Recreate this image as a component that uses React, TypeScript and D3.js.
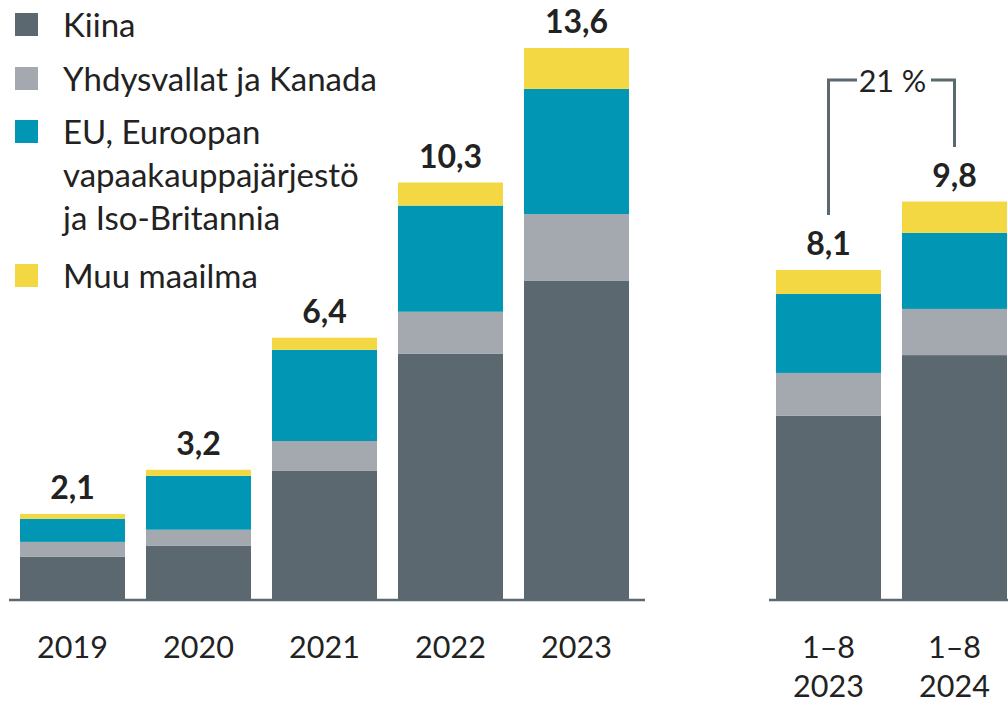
import React from "react";
import * as d3 from "d3";

const categories = ["2019", "2020", "2021", "2022", "2023", "", "1–8\n2023", "1–8\n2024"];
const totals = ["2,1", "3,2", "6,4", "10,3", "13,6", "", "8,1", "9,8"];
const seriesNames = ["Kiina", "Yhdysvallat ja Kanada", "EU, Euroopan\nvapaakauppajärjestö\nja Iso-Britannia", "Muu maailma"];
const kiina = [1.04, 1.31, 3.16, 6.05, 7.85, 0, 4.52, 6.02];
const usaCanada = [0.37, 0.4, 0.74, 1.04, 1.65, 0, 1.06, 1.14];
const eu = [0.57, 1.33, 2.25, 2.62, 3.09, 0, 1.95, 1.88];
const muu = [0.12, 0.15, 0.3, 0.57, 1.01, 0, 0.59, 0.77];
const changeLabel = "21 %";

const colors = ["#5b6870", "#a3a9ae", "#0096b4", "#f4d843"];
const FONT = "Lato, 'Open Sans', sans-serif";

export default function App() {
  const W = 1008, H = 703;
  const baseline = 599;
  const x = d3.scaleBand<string>().domain(categories.map((c, i) => String(i)))
    .range([9.5, 9.5 + 8 * 126]).paddingInner(1 / 6).paddingOuter(1 / 12);
  const y = d3.scaleLinear().domain([0, 13.6]).range([baseline, 48]);

  const rows = categories.map((c, i) => ({ key: String(i), v0: kiina[i], v1: usaCanada[i], v2: eu[i], v3: muu[i] }));
  const stack = d3.stack<any>().keys(["v0", "v1", "v2", "v3"])(rows);

  const bw = x.bandwidth();
  const cx = (i: number) => (x(String(i)) as number) + bw / 2;
  const tops = rows.map(r => r.v0 + r.v1 + r.v2 + r.v3);

  const i1 = 6, i2 = 7;
  const bracketY = 80;

  return (
    <svg width={W} height={H} style={{ position: "absolute", left: 0, top: 0, background: "#fff" }} fontFamily={FONT}>
      {stack.map((layer, li) => (
        <g key={li} fill={colors[li]}>
          {layer.map((d, i) => categories[i] === "" ? null : (
            <rect key={i} x={x(String(i))} width={bw} y={y(d[1])} height={Math.max(0, y(d[0]) - y(d[1]))} />
          ))}
        </g>
      ))}
      {/* axis lines */}
      <line x1={9} x2={645} y1={baseline + 1} y2={baseline + 1} stroke="#5b6870" strokeWidth={2.5} />
      <line x1={769} x2={1008} y1={baseline + 1} y2={baseline + 1} stroke="#5b6870" strokeWidth={2.5} />
      {/* category labels */}
      {categories.map((c, i) => c === "" ? null : (
        <text key={i} x={cx(i)} y={658} textAnchor="middle" fontSize={30.5} fill="#222">
          {c.split("\n").map((ln, k) => <tspan key={k} x={cx(i)} dy={k === 0 ? 0 : 39}>{ln}</tspan>)}
        </text>
      ))}
      {/* totals */}
      {totals.map((t, i) => t === "" ? null : (
        <text key={i} x={cx(i)} y={y(tops[i]) - 15} textAnchor="middle" fontSize={32} fontWeight={700} fill="#222">{t}</text>
      ))}
      {/* bracket */}
      <path d={`M${cx(i1)},215 V${bracketY} H857`} fill="none" stroke="#5b6870" strokeWidth={3} />
      <path d={`M931,${bracketY} H${cx(i2)} V147`} fill="none" stroke="#5b6870" strokeWidth={3} />
      <text x={(cx(i1) + cx(i2)) / 2 + 1} y={92} textAnchor="middle" fontSize={30.5} fill="#222">{changeLabel}</text>
      {/* legend */}
      {seriesNames.map((name, i) => {
        const ys = [37, 91, 144, 288][i];
        return (
          <g key={i}>
            <rect x={15} y={ys - 24} width={23} height={23} fill={colors[i]} />
            <text x={63} y={ys} fontSize={33} fill="#222">
              {name.split("\n").map((ln, k) => <tspan key={k} x={63} dy={k === 0 ? 0 : 43}>{ln}</tspan>)}
            </text>
          </g>
        );
      })}
    </svg>
  );
}
